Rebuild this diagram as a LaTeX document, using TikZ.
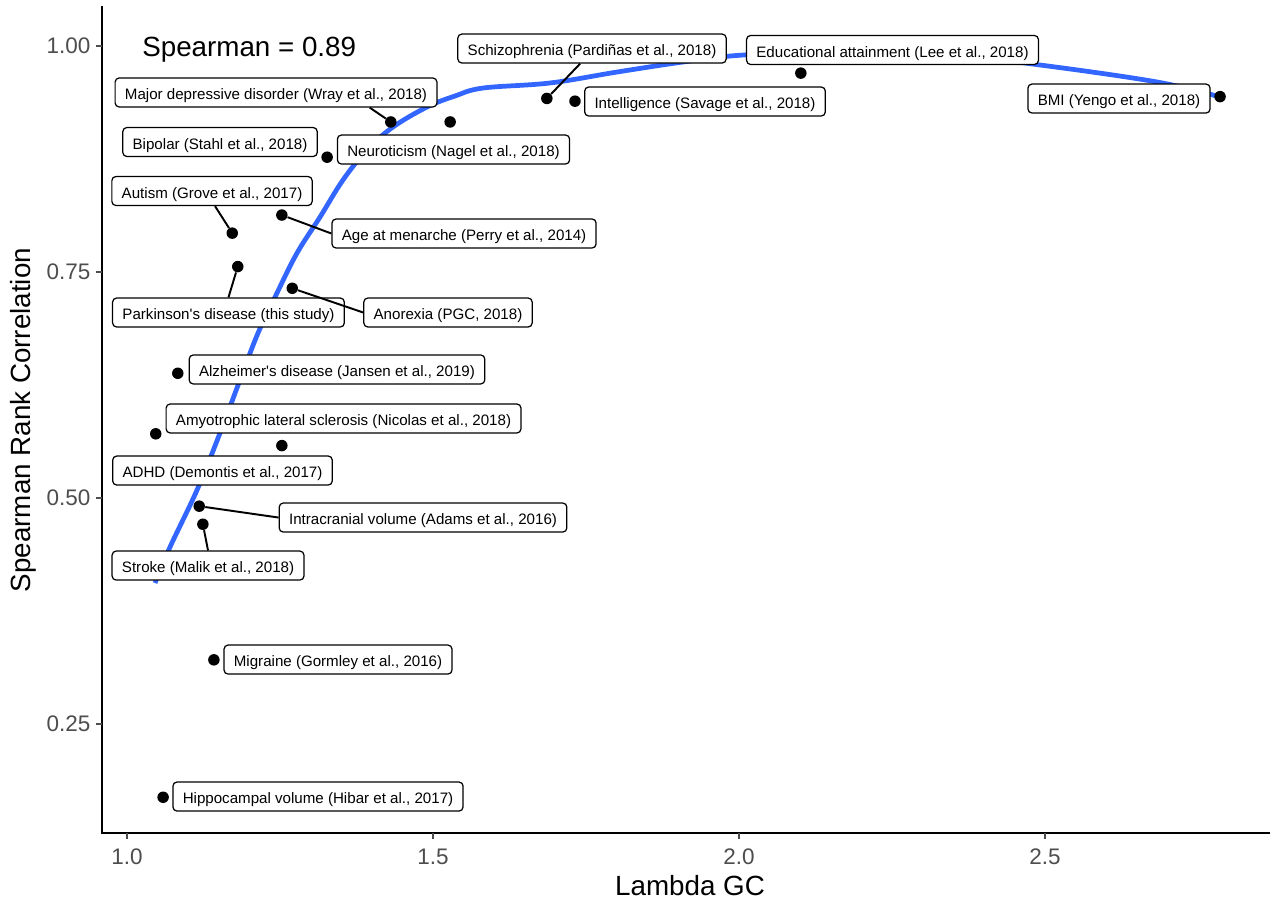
\documentclass[tikz,border=0pt]{standalone}
\usepackage{fontspec}
\setmainfont{Liberation Sans}
\usetikzlibrary{calc}
\definecolor{smoothblue}{HTML}{3366FF}
\definecolor{tickgray}{HTML}{4D4D4D}
\begin{document}
\begin{tikzpicture}[x=12.24cm,y=18.08cm,
  pt/.style={circle,fill=black,inner sep=0pt,minimum size=0.23cm},
  lab/.style={draw=black,fill=white,rounded corners=2.3pt,line width=0.7pt,inner xsep=5.6pt,inner ysep=0pt,
    minimum height=0.58cm,text height=1em,text depth=0.16em,font=\fontsize{8.6}{10}\selectfont},
  seg/.style={line width=1.1pt},
  ticklab/.style={text=tickgray,inner sep=0pt,font=\fontsize{12.8}{15}\selectfont},
  axtitle/.style={inner sep=0pt,font=\fontsize{15.8}{18}\selectfont}]
\useasboundingbox (0.7925,0.0531) rectangle (2.8709,1.0509);
% axes and ticks
\draw[line width=1.1pt] (0.9592,1.0443) -- (0.9592,0.1294) -- (2.8676,0.1294);
\foreach \y/\t [count=\i] in {0.25/0.25,0.5/0.50,0.75/0.75,1/1.00}
  \draw[tickgray,line width=0.9pt] (0.9592,\y) -- (0.9494,\y) node[ticklab,anchor=east,xshift=-2.8pt] (ytick\i) {\t};
\foreach \x/\t [count=\i] in {1/1.0,1.5/1.5,2/2.0,2.5/2.5}
  \draw[tickgray,line width=0.9pt] (\x,0.1294) -- (\x,0.1228) node[ticklab,anchor=north,yshift=-5pt] (xtick\i) {\t};
\node[axtitle,anchor=base] (xtitle) at (1.920,0.0608) {Lambda GC};
\node[axtitle,anchor=base,rotate=90] (ytitle) at (0.8415,0.5863) {Spearman Rank Correlation};
\node[axtitle,anchor=base west] (rho) at (1.0245,0.9889) {Spearman = 0.89};
% loess fit
\draw[smoothblue,line width=2.7pt] plot[smooth,tension=0.6] coordinates {
  (1.0458,0.4060) (1.0703,0.4458) (1.1144,0.5088) (1.1520,0.5719) (1.1846,0.6305)
  (1.2141,0.6825) (1.2451,0.7268) (1.2778,0.7710) (1.3154,0.8108) (1.3529,0.8518)
  (1.3922,0.8850) (1.4346,0.9104) (1.4902,0.9325) (1.5359,0.9447) (1.5817,0.9535)
  (1.6912,0.9591) (1.8007,0.9712) (1.9085,0.9823) (2.0065,0.9900) (2.1814,0.9945)
  (2.3448,0.9900) (2.4918,0.9790) (2.6830,0.9602) (2.7859,0.9436)};
% points
\node[pt] (mdd) at (1.431,0.916) {};
\node[pt] (neu) at (1.528,0.916) {};
\node[pt] (bip) at (1.327,0.877) {};
\node[pt] (scz) at (1.686,0.942) {};
\node[pt] (int) at (1.732,0.939) {};
\node[pt] (edu) at (2.101,0.970) {};
\node[pt] (bmi) at (2.786,0.944) {};
\node[pt] (aut) at (1.172,0.793) {};
\node[pt] (age) at (1.253,0.813) {};
\node[pt] (pd) at (1.181,0.756) {};
\node[pt] (ano) at (1.270,0.732) {};
\node[pt] (alz) at (1.083,0.638) {};
\node[pt] (als) at (1.047,0.571) {};
\node[pt] (adhd) at (1.253,0.558) {};
\node[pt] (icv) at (1.118,0.491) {};
\node[pt] (str) at (1.124,0.471) {};
\node[pt] (mig) at (1.142,0.321) {};
\node[pt] (hip) at (1.059,0.169) {};
% labels
\node[lab] (mddl) at (1.2435,0.9486) {Major depressive disorder (Wray et al., 2018)};
\node[lab] (bipl) at (1.1520,0.8938) {Bipolar (Stahl et al., 2018)};
\node[lab] (neul) at (1.5335,0.8855) {Neuroticism (Nagel et al., 2018)};
\node[lab] (sczl) at (1.7598,0.9972) {Schizophrenia (Pardiñas et al., 2018)};
\node[lab] (intl) at (1.9444,0.9386) {Intelligence (Savage et al., 2018)};
\node[lab] (edul) at (2.2508,0.9956) {Educational attainment (Lee et al., 2018)};
\node[lab] (bmil) at (2.6209,0.9419) {BMI (Yengo et al., 2018)};
\node[lab] (autl) at (1.1389,0.8396) {Autism (Grove et al., 2017)};
\node[lab] (agel) at (1.5507,0.7926) {Age at menarche (Perry et al., 2014)};
\node[lab] (pdl) at (1.1658,0.7052) {Parkinson\textquotesingle s disease (this study)};
\node[lab] (anol) at (1.5245,0.7052) {Anorexia (PGC, 2018)};
\node[lab] (alzl) at (1.3431,0.6422) {Alzheimer\textquotesingle s disease (Jansen et al., 2019)};
\node[lab] (alsl) at (1.3538,0.5880) {Amyotrophic lateral sclerosis (Nicolas et al., 2018)};
\node[lab] (adhdl) at (1.1560,0.5304) {ADHD (Demontis et al., 2017)};
\node[lab] (icvl) at (1.4837,0.4784) {Intracranial volume (Adams et al., 2016)};
\node[lab] (strl) at (1.1324,0.4253) {Stroke (Malik et al., 2018)};
\node[lab] (migl) at (1.3448,0.3213) {Migraine (Gormley et al., 2016)};
\node[lab] (hipl) at (1.3121,0.1698) {Hippocampal volume (Hibar et al., 2017)};
% segments
\draw[seg] ($(mddl.south west)!0.79!(mddl.south east)$) -- (mdd);
\draw[seg] ($(sczl.south west)!0.456!(sczl.south east)$) -- (scz);
\draw[seg] ($(autl.south west)!0.515!(autl.south east)$) -- (aut);
\draw[seg] (agel.west) -- (age);
\draw[seg] (pdl.north) -- (pd);
\draw[seg] (anol.west) -- (ano);
\draw[seg] (icvl.west) -- (icv);
\draw[seg] (strl.north) -- (str);
\end{tikzpicture}
\end{document}
